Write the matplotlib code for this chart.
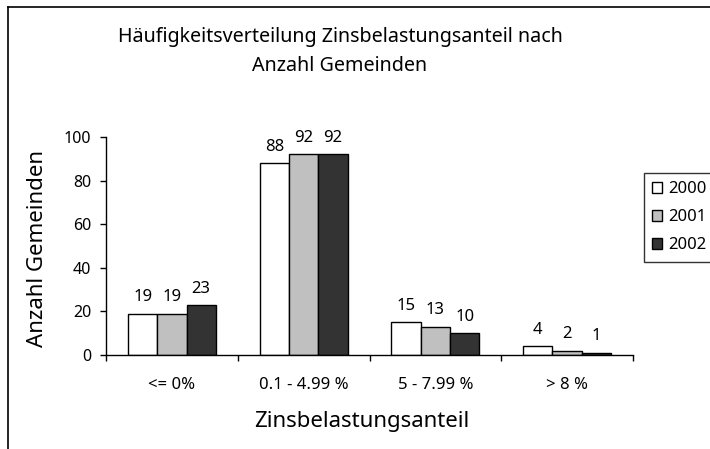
import numpy as np
import matplotlib
matplotlib.use("Agg")
import matplotlib.pyplot as plt
from matplotlib.lines import Line2D

# Daten
kategorien = ['<= 0%', '0.1 - 4.99 %', '5 - 7.99 %', '> 8 %']
jahre = ['2000', '2001', '2002']
werte_2000 = [19, 88, 15, 4]
werte_2001 = [19, 92, 13, 2]
werte_2002 = [23, 92, 10, 1]
farben = ['#ffffff', '#c0c0c0', '#333333']

plt.rcParams['font.family'] = ['Noto Sans', 'DejaVu Sans']

fig = plt.figure(figsize=(7.1, 4.49), dpi=100)
ax = fig.add_axes([106/710, 1-355/449, (633-106)/710, (355-137)/449])

# Rahmen um die Grafik (nur links und oben sichtbar)
fig.add_artist(Line2D([7.5/710, 7.5/710], [-0.1, 1-6.5/449], transform=fig.transFigure,
                      color='black', lw=1.2))
fig.add_artist(Line2D([7.5/710, 1.1], [1-6.5/449, 1-6.5/449], transform=fig.transFigure,
                      color='black', lw=1.2))

x = np.arange(len(kategorien))
bw = 1/4.5
for i, (vals, lab) in enumerate(zip([werte_2000, werte_2001, werte_2002], jahre)):
    bars = ax.bar(x + (i-1)*bw, vals, bw, color=farben[i], edgecolor='black',
                  linewidth=1.0, label=lab)
    ax.bar_label(bars, padding=6, fontsize=12)

ax.set_xlim(-0.5, 3.5)
ax.set_ylim(0, 100)
ax.set_yticks([0, 20, 40, 60, 80, 100])
ax.set_xticks(x)
ax.set_xticklabels(kategorien, fontsize=12)
ax.set_xticks([-0.5, 0.5, 1.5, 2.5, 3.5], minor=True)
ax.tick_params(axis='x', which='major', length=0, pad=16)
ax.tick_params(axis='x', which='minor', length=4, direction='out', width=1)
ax.tick_params(axis='y', length=4.5, width=1, labelsize=11.5, pad=6)
for s in ['top', 'right']:
    ax.spines[s].set_visible(False)
ax.spines['left'].set_linewidth(1)
ax.spines['bottom'].set_linewidth(1)

ax.set_xlabel('Zinsbelastungsanteil', fontsize=16)
ax.set_ylabel('Anzahl Gemeinden', fontsize=16)
ax.xaxis.set_label_coords((362-106)/527, (355-411)/218)
ax.yaxis.set_label_coords((48-106)/527, 0.49)

fig.text(340/710, 1-27/449, 'Häufigkeitsverteilung Zinsbelastungsanteil nach\nAnzahl Gemeinden',
         ha='center', va='top', fontsize=14.2, linespacing=1.6)

leg = ax.legend(loc='upper left', bbox_to_anchor=(644/710, 1-173/449),
                bbox_transform=fig.transFigure, fontsize=12, frameon=True,
                fancybox=False, edgecolor='black', handlelength=0.6, handleheight=0.6,
                handletextpad=0.35, borderpad=0.5, labelspacing=0.72, borderaxespad=0)
leg.get_frame().set_linewidth(1)

fig.savefig('out.png', dpi=100)
